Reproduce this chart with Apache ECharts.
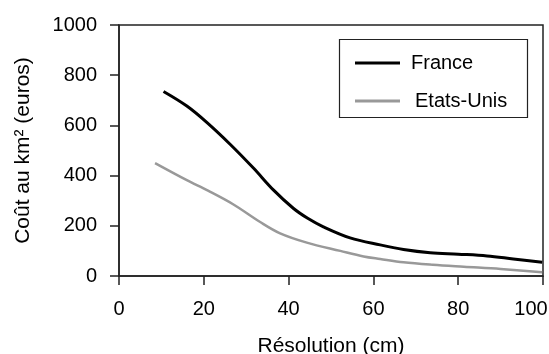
<!DOCTYPE html>
<html><head><meta charset="utf-8">
<script src="https://cdn.jsdelivr.net/npm/echarts@6/dist/echarts.min.js"></script>
<style>html,body{margin:0;padding:0;background:#fff}#c{width:549px;height:354px}</style>
</head><body><div id="c"></div>
<script>
const franceX = [10.5, 16, 20.7, 26.2, 31.7, 36.4, 41.1, 44.5, 48.2, 54.5, 61.6, 67.1, 73.4, 80, 86.8, 93, 99.8];
const franceY = [735, 677, 612, 525, 430, 343, 270, 230, 196, 152, 124, 106, 93, 87, 80, 68, 55];
const usaX = [8.5, 16, 21, 27, 33.3, 38, 44.3, 52.2, 57.7, 61.6, 67.1, 74, 81.3, 90, 99.8];
const usaY = [450, 382, 340, 285, 215, 170, 133, 100, 78, 68, 55, 45, 37, 28, 15];
const seriesNames = ['France', 'Etats-Unis'];
const xTicks = [0, 20, 40, 60, 80, 100];
const yTicks = [0, 200, 400, 600, 800, 1000];

const font = 'Liberation Sans, Arial, sans-serif';
const chart = echarts.init(document.getElementById('c'));
chart.setOption({
  animation: false,
  grid: {left: 119, top: 25, right: 6, bottom: 78, containLabel: false, outerBoundsMode: 'none',
         show: true, borderColor: '#222', borderWidth: 1.5, backgroundColor: 'transparent'},
  legend: {
    orient: 'vertical', left: 355, top: 53, padding: 0, itemWidth: 45, itemHeight: 3, itemGap: 18,
    icon: 'rect', data: seriesNames,
    formatter: n => n === 'Etats-Unis' ? '{b|' + n + '}' : n,
    textStyle: {fontFamily: font, fontSize: 20, color: '#000', padding: [0, 0, 0, 6],
      rich: {b: {fontFamily: font, fontSize: 20, color: '#000', padding: [0, 0, 0, 4]}}}
  },
  graphic: [{type: 'rect', shape: {x: 339.5, y: 39.5, width: 188, height: 78}, style: {fill: 'none', stroke: '#222', lineWidth: 1.2}, z: 100}],
  xAxis: {
    type: 'value', min: xTicks[0], max: xTicks[xTicks.length - 1], interval: 20,
    name: 'Résolution (cm)', nameLocation: 'middle', nameGap: 60,
    nameTextStyle: {fontFamily: font, fontSize: 21, color: '#000'},
    axisLine: {show: true, lineStyle: {color: '#222', width: 1.5}},
    axisTick: {show: true, length: 9, lineStyle: {color: '#222', width: 1.5}},
    axisLabel: {fontFamily: font, fontSize: 20, color: '#000', margin: 23,
      formatter: v => v === xTicks[xTicks.length - 1] ? '{m|' + v + '}' : String(v),
      rich: {m: {fontFamily: font, fontSize: 20, color: '#000', padding: [0, 24, 0, 0]}}},
    splitLine: {show: false}
  },
  yAxis: {
    type: 'value', min: yTicks[0], max: yTicks[yTicks.length - 1], interval: 200,
    name: 'Coût au km² (euros)', nameLocation: 'middle', nameGap: 85,
    nameTextStyle: {fontFamily: font, fontSize: 21, color: '#000'},
    axisLine: {show: true, lineStyle: {color: '#222', width: 1.5}},
    axisTick: {show: true, length: 9, lineStyle: {color: '#222', width: 1.5}},
    axisLabel: {fontFamily: font, fontSize: 20, color: '#000', margin: 22, formatter: v => String(v)},
    splitLine: {show: false}
  },
  series: [
    {name: seriesNames[0], type: 'line', smooth: 0.35, showSymbol: false, symbol: 'none',
     data: franceX.map((x, i) => [x, franceY[i]]),
     lineStyle: {color: '#000', width: 3}, itemStyle: {color: '#000'}},
    {name: seriesNames[1], type: 'line', smooth: 0.35, showSymbol: false, symbol: 'none',
     data: usaX.map((x, i) => [x, usaY[i]]),
     lineStyle: {color: '#999', width: 2.5}, itemStyle: {color: '#999'}}
  ]
});
</script></body></html>
